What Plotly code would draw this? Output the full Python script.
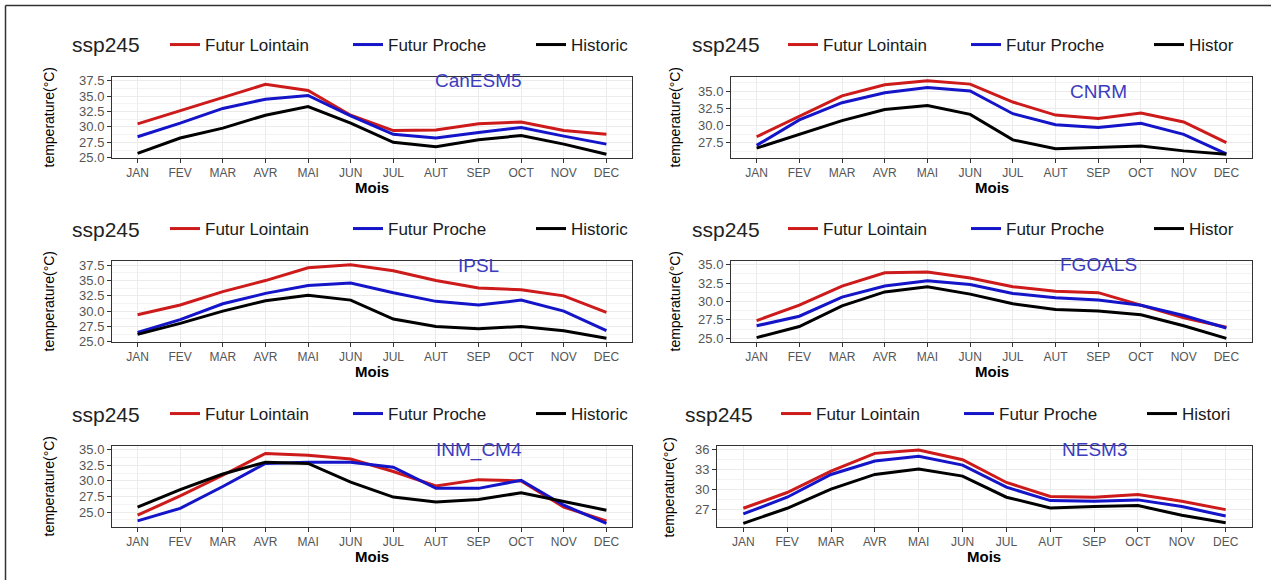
import plotly.graph_objects as go

W, H = 1271, 580

months = ["JAN", "FEV", "MAR", "AVR", "MAI", "JUN", "JUL", "AUT", "SEP", "OCT", "NOV", "DEC"]
models = ["CanESM5", "CNRM", "IPSL", "FGOALS", "INM_CM4", "NESM3"]
series_names = ["Futur Lointain", "Futur Proche", "Historic"]
legend_title = "ssp245"

canesm5_lointain = [30.5, 32.6, 34.7, 36.9, 35.9, 31.9, 29.4, 29.5, 30.5, 30.8, 29.4, 28.8]
canesm5_proche = [28.4, 30.6, 33.0, 34.5, 35.1, 31.8, 28.8, 28.2, 29.1, 29.9, 28.5, 27.2]
canesm5_hist = [25.7, 28.2, 29.8, 31.9, 33.3, 30.6, 27.5, 26.8, 27.9, 28.6, 27.2, 25.55]

cnrm_lointain = [28.35, 31.3, 34.3, 35.9, 36.5, 36.0, 33.4, 31.5, 31.0, 31.8, 30.5, 27.5]
cnrm_proche = [27.1, 30.8, 33.3, 34.75, 35.5, 35.0, 31.7, 30.1, 29.7, 30.3, 28.7, 25.85]
cnrm_hist = [26.7, 28.7, 30.7, 32.3, 32.9, 31.6, 27.9, 26.6, 26.8, 27.0, 26.3, 25.8]

ipsl_lointain = [29.4, 31.0, 33.2, 35.0, 37.1, 37.6, 36.6, 35.0, 33.8, 33.5, 32.5, 29.8]
ipsl_proche = [26.5, 28.6, 31.2, 32.9, 34.2, 34.6, 33.0, 31.6, 31.0, 31.8, 30.0, 26.8]
ipsl_hist = [26.2, 28.0, 30.0, 31.7, 32.6, 31.8, 28.7, 27.5, 27.1, 27.5, 26.8, 25.55]

fgoals_lointain = [27.4, 29.5, 32.1, 33.9, 34.0, 33.2, 32.0, 31.4, 31.2, 29.5, 27.8, 26.5]
fgoals_proche = [26.7, 28.0, 30.6, 32.1, 32.8, 32.3, 31.1, 30.5, 30.2, 29.5, 28.1, 26.4]
fgoals_hist = [25.1, 26.6, 29.4, 31.3, 32.0, 31.0, 29.7, 28.9, 28.7, 28.2, 26.7, 25.0]

inm_lointain = [24.5, 27.6, 30.9, 34.4, 34.1, 33.5, 31.5, 29.2, 30.2, 30.0, 25.8, 23.6]
inm_proche = [23.6, 25.6, 29.1, 32.8, 33.0, 33.0, 32.2, 28.8, 28.8, 30.1, 26.1, 23.2]
inm_hist = [25.8, 28.6, 31.1, 33.0, 32.8, 29.8, 27.4, 26.6, 27.0, 28.1, 26.7, 25.3]

nesm3_lointain = [27.25, 29.6, 32.8, 35.45, 35.95, 34.5, 31.1, 29.0, 28.9, 29.3, 28.3, 27.05]
nesm3_proche = [26.4, 28.9, 32.3, 34.3, 35.0, 33.7, 30.4, 28.4, 28.3, 28.5, 27.5, 26.1]
nesm3_hist = [25.0, 27.25, 30.1, 32.3, 33.1, 32.05, 28.9, 27.3, 27.5, 27.65, 26.2, 25.1]

# y value of each model's name label, drawn at the "SEP" category
label_y = [37.5, 35.0, 37.5, 35.0, 35.0, 36.0]
y_dtick = [2.5, 2.5, 2.5, 2.5, 2.5, 3.0]

data = [
    (canesm5_lointain, canesm5_proche, canesm5_hist),
    (cnrm_lointain, cnrm_proche, cnrm_hist),
    (ipsl_lointain, ipsl_proche, ipsl_hist),
    (fgoals_lointain, fgoals_proche, fgoals_hist),
    (inm_lointain, inm_proche, inm_hist),
    (nesm3_lointain, nesm3_proche, nesm3_hist),
]

colors = ["#CD1A1A", "#1414C8", "#000000"]
FONT = "Liberation Sans, Arial, sans-serif"

# panel boxes in pixels: left, right, top, bottom
boxes = [
    (112, 632, 77, 158),
    (731, 1252, 77, 158),
    (112, 632, 261, 342),
    (731, 1252, 261, 342),
    (112, 632, 446, 527),
    (717, 1252, 446, 527),
]
title_px = [(70, 45), (690, 45), (70, 229), (690, 229), (70, 414), (683, 414)]
legend_x_px = [165, 783, 165, 783, 165, 776]
hist_label = ["Historic", "Histor", "Historic", "Histor", "Historic", "Histori"]
ytitle_x = [48, 674, 48, 674, 48, 668]

fig = go.Figure()
layout = dict(
    width=W, height=H,
    margin=dict(l=0, r=0, t=0, b=0),
    paper_bgcolor="white", plot_bgcolor="white",
    font=dict(family=FONT, color="#1a1a1a"),
    annotations=[], shapes=[],
)

for i in range(6):
    k = i + 1
    xa = "x" if k == 1 else f"x{k}"
    ya = "y" if k == 1 else f"y{k}"
    lg = "legend" if k == 1 else f"legend{k}"
    names = [series_names[0], series_names[1], hist_label[i]]
    for s in range(3):
        fig.add_trace(go.Scatter(
            x=months, y=data[i][s], mode="lines", name=names[s],
            line=dict(color=colors[s], width=3),
            xaxis=xa, yaxis=ya, legend=lg, showlegend=True,
            legendwidth=70 if s == 2 else None,
            hoverinfo="skip",
        ))
    allv = [v for ser in data[i] for v in ser] + [label_y[i]]
    lo, hi = min(allv), max(allv)
    pad = 0.05 * (hi - lo)
    l, r, t, b = boxes[i]
    layout["xaxis" if k == 1 else f"xaxis{k}"] = dict(
        domain=[l / W, r / W], anchor=ya, type="category",
        range=[-0.6, 11.6], showgrid=True, gridcolor="#EBEBEB", gridwidth=1,
        showline=True, mirror=True, linecolor="#333333", linewidth=1,
        ticks="outside", ticklen=4, tickcolor="#333333", tickwidth=1,
        tickfont=dict(size=12, color="#555555", family=FONT),
        zeroline=False, automargin=False, fixedrange=True,
    )
    dt = y_dtick[i]
    layout["yaxis" if k == 1 else f"yaxis{k}"] = dict(
        domain=[1 - b / H, 1 - t / H], anchor=xa,
        range=[lo - pad, hi + pad], tick0=0, dtick=dt,
        tickformat=".1f" if dt == 2.5 else "d",
        showgrid=True, gridcolor="#EBEBEB", gridwidth=1,
        minor=dict(dtick=dt / 2, tick0=0, showgrid=True, gridcolor="#F3F3F3", gridwidth=0.6),
        showline=True, mirror=True, linecolor="#333333", linewidth=1,
        ticks="outside", ticklen=4, tickcolor="#333333", tickwidth=1,
        tickfont=dict(size=13, color="#555555", family=FONT),
        zeroline=False, automargin=False, fixedrange=True,
    )
    tx, ty = title_px[i]
    layout[lg] = dict(
        orientation="h", x=legend_x_px[i] / W, xanchor="left", y=1 - ty / H, yanchor="middle",
        font=dict(size=17, color="#1a1a1a", family=FONT),
        bgcolor="rgba(0,0,0,0)", borderwidth=0,
        entrywidthmode="pixels", entrywidth=138,
        itemclick=False, itemdoubleclick=False,
    )
    # legend title
    layout["annotations"].append(dict(
        x=tx / W, y=1 - ty / H, xref="paper", yref="paper", text=legend_title,
        showarrow=False, xanchor="left", yanchor="middle",
        font=dict(size=21, color="#222222", family=FONT),
    ))
    # model label
    layout["annotations"].append(dict(
        x="SEP", y=label_y[i], xref=xa, yref=ya, text=models[i], showarrow=False,
        xanchor="center", yanchor="middle",
        font=dict(size=19, color="#3C3CC0", family=FONT),
    ))
    # axis titles
    layout["annotations"].append(dict(
        x=(l + r) / 2 / W, y=1 - (b + 29) / H, xref="paper", yref="paper",
        text="Mois", showarrow=False, xanchor="center", yanchor="middle",
        font=dict(size=15, color="#000000", family=FONT, weight="bold"),
    ))
    layout["annotations"].append(dict(
        x=ytitle_x[i] / W, y=1 - (t + b) / 2 / H, xref="paper", yref="paper",
        text="temperature(°C)", textangle=-90, showarrow=False,
        xanchor="center", yanchor="middle",
        font=dict(size=14, color="#000000", family=FONT),
    ))

# outer frame (left and top edges)
layout["shapes"].append(dict(type="line", xref="paper", yref="paper",
                             x0=5.5 / W, x1=5.5 / W, y0=0, y1=1 - 5.5 / H,
                             line=dict(color="#333333", width=1.5)))
layout["shapes"].append(dict(type="line", xref="paper", yref="paper",
                             x0=5.5 / W, x1=1, y0=1 - 5.5 / H, y1=1 - 5.5 / H,
                             line=dict(color="#333333", width=1.5)))

fig.update_layout(**layout)
fig.write_html("out.html")
